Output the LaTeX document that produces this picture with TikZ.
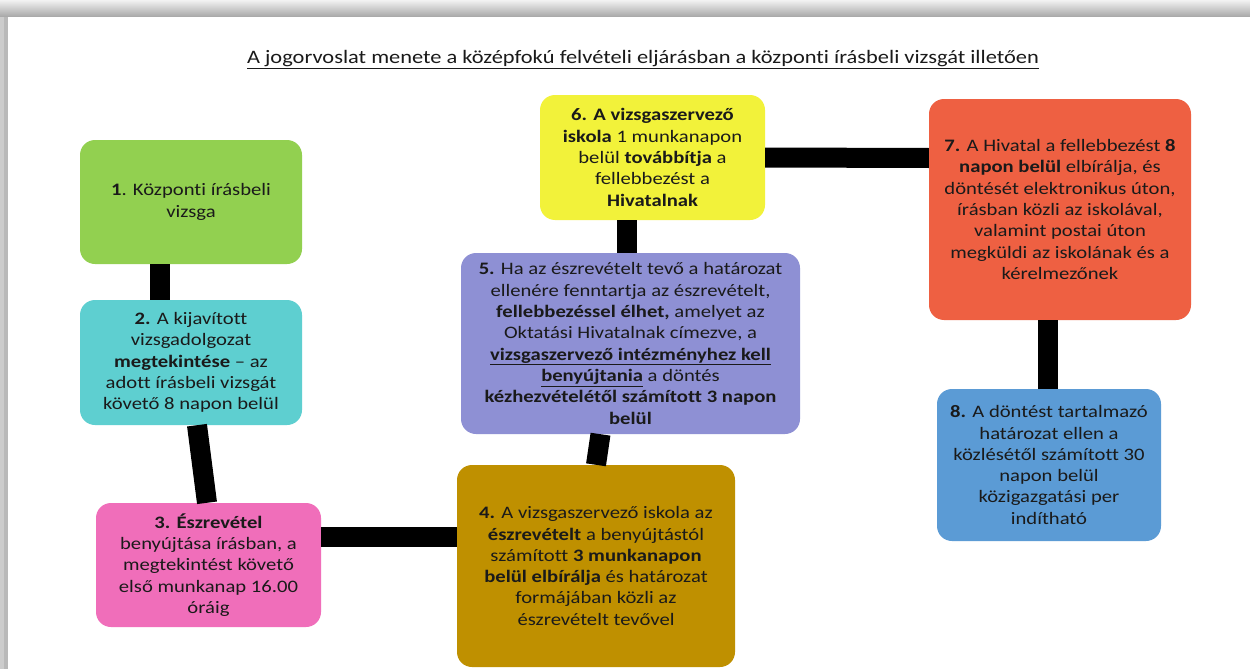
\documentclass[tikz,border=0pt]{standalone}
\usepackage{fontspec}
\setmainfont{Carlito}[FakeStretch=1.18, Ligatures=NoCommon]
\usetikzlibrary{calc}
\definecolor{cgreen}{HTML}{92D050}
\definecolor{ccyan}{HTML}{5ECFD0}
\definecolor{cpink}{HTML}{F06EBA}
\definecolor{cgold}{HTML}{BF9000}
\definecolor{cpurple}{HTML}{8E90D4}
\definecolor{cyellow}{HTML}{F2F23A}
\definecolor{cred}{HTML}{EE6042}
\definecolor{cblue}{HTML}{5B9BD5}
\definecolor{ctext}{HTML}{1A1A1A}
\tikzset{
  box/.style={rounded corners=15pt, align=center, inner sep=0pt, text=ctext,
    font=\fontsize{17.5pt}{21.3pt}\selectfont},
  conn/.style={line width=20pt, draw=black},
}
\begin{document}
\begin{tikzpicture}[x=1pt,y=-1pt]
\useasboundingbox (0,0) rectangle (1250,669);
% frame shadow
\shade[top color=white!90!gray, bottom color=gray!70] (0,0) rectangle (1250,17);
\fill[gray!40] (0,17) rectangle (8,669);
\fill[gray!55] (4,17) rectangle (8,669);
\fill[white] (8,17) rectangle (1250,669);
% title
\node[font=\fontsize{19pt}{22pt}\selectfont, text=ctext, inner sep=0pt] (title) at (643,60)
  {\underline{A jogorvoslat menete a középfokú felvételi eljárásban a központi írásbeli vizsgát illetően}};
% boxes
\node[box, fill=cgreen, minimum width=222pt, minimum height=124pt] (n1) at (191,202)
  {\textbf{1}. Központi írásbeli\\vizsga};
\node[box, fill=ccyan, minimum width=222pt, minimum height=125pt] (n2) at (191,362.5)
  {\textbf{2.} A kijavított\\vizsgadolgozat\\\textbf{megtekintése} – az\\adott írásbeli vizsgát\\követő 8 napon belül};
\node[box, fill=cpink, minimum width=225pt, minimum height=124pt] (n3) at (208.5,565)
  {\textbf{3. Észrevétel}\\benyújtása írásban, a\\megtekintést követő\\első munkanap 16.00\\óráig};
\node[box, fill=cgold, minimum width=278pt, minimum height=202pt] (n4) at (596,566)
  {\textbf{4.} A vizsgaszervező iskola az\\\textbf{észrevételt} a benyújtástól\\számított \textbf{3 munkanapon}\\\textbf{belül elbírálja} és határozat\\formájában közli az\\észrevételt tevővel};
\node[box, fill=cpurple, minimum width=339pt, minimum height=181pt] (n5) at (630.5,343.5)
  {\textbf{5.} Ha az észrevételt tevő a határozat\\ellenére fenntartja az észrevételt,\\\textbf{fellebbezéssel élhet,} amelyet az\\Oktatási Hivatalnak címezve, a\\\textbf{\underline{vizsgaszervező intézményhez kell}}\\\textbf{\underline{benyújtania}} a döntés\\\textbf{kézhezvételétől számított 3 napon}\\\textbf{belül}};
\node[box, fill=cyellow, minimum width=225pt, minimum height=125pt] (n6) at (652.5,157.5)
  {\textbf{6. A vizsgaszervező}\\\textbf{iskola} 1 munkanapon\\belül \textbf{továbbítja} a\\fellebbezést a\\\textbf{Hivatalnak}};
\node[box, fill=cred, minimum width=262pt, minimum height=221pt] (n7) at (1060,209.5)
  {\textbf{7.} A Hivatal a fellebbezést \textbf{8}\\\textbf{napon belül} elbírálja, és\\döntését elektronikus úton,\\írásban közli az iskolával,\\valamint postai úton\\megküldi az iskolának és a\\kérelmezőnek};
\node[box, fill=cblue, minimum width=224pt, minimum height=152pt] (n8) at (1049,465)
  {\textbf{8.} A döntést tartalmazó\\határozat ellen a\\közlésétől számított 30\\napon belül\\közigazgatási per\\indítható};
% connectors
\draw[conn] ($(n1.south)+(-31,0)$) -- ($(n2.north)+(-31,0)$);
\draw[conn] ($(n2.south)+(6,0)$) -- ($(n3.north)+(-1.5,0)$);
\draw[conn] ($(n3.east)+(0,-28)$) -- ($(n4.west)+(0,-29)$);
\draw[conn] ($(n4.north)+(0,0)$) -- ($(n5.south)+(-30,0)$);
\draw[conn] ($(n5.north)+(-3.5,0)$) -- ($(n6.south)+(-25.5,0)$);
\draw[conn] ($(n6.east)+(0,0)$) -- ($(n7.west)+(0,-51.5)$);
\draw[conn] ($(n7.south)+(-12,0)$) -- ($(n8.north)+(-1,0)$);
\end{tikzpicture}
\end{document}
